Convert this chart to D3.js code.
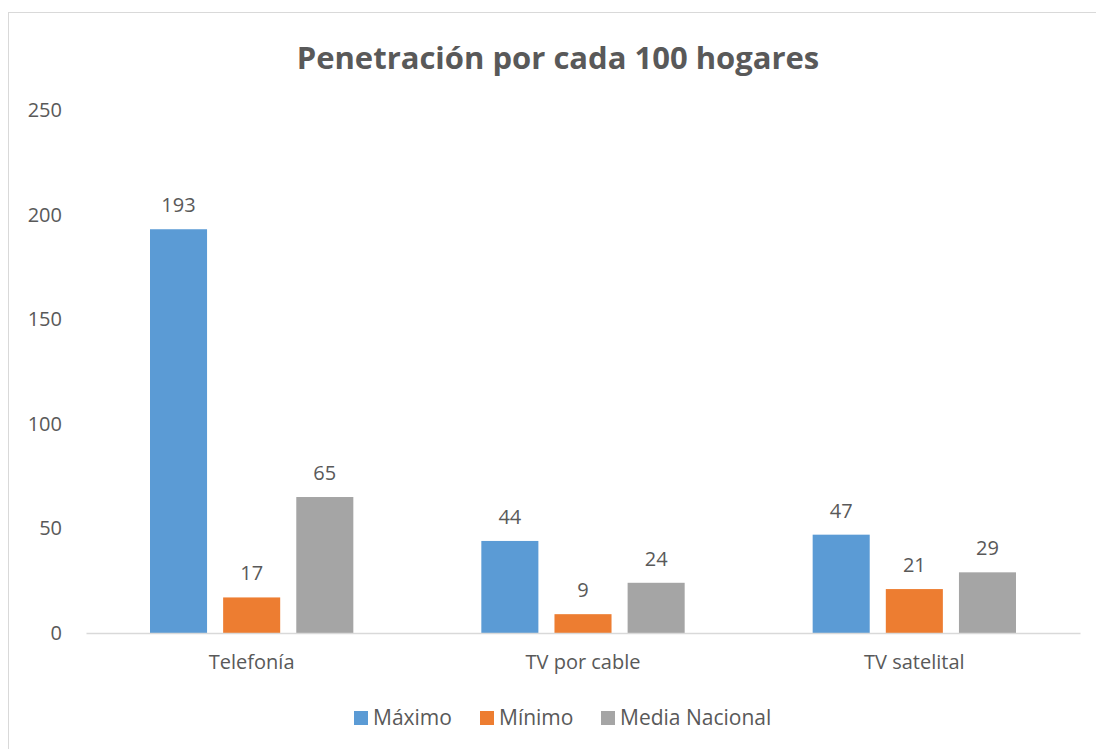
<!DOCTYPE html>
<html>
<head>
<meta charset="utf-8">
<script src="https://cdn.jsdelivr.net/npm/d3@7"></script>
<style>
  body { margin: 0; background: #fff; }
  svg text { font-family: "Open Sans", "Noto Sans", sans-serif; fill: #595959; }
</style>
</head>
<body>
<div id="chart"></div>
<script>
// Chart values
const categories = ["Telefonía", "TV por cable", "TV satelital"];
const seriesNames = ["Máximo", "Mínimo", "Media Nacional"];
const seriesColors = ["#5B9BD5", "#ED7D31", "#A5A5A5"];
const maximo = [193, 44, 47];
const minimo = [17, 9, 21];
const mediaNacional = [65, 24, 29];
const yTicks = [0, 50, 100, 150, 200, 250];

const seriesValues = [maximo, minimo, mediaNacional];

const width = 1096, height = 749;
const margin = { left: 86, right: 16, top: 110, bottom: 116 };

const svg = d3.select("#chart").append("svg")
    .attr("width", width)
    .attr("height", height);

// chart area border
svg.append("rect")
    .attr("x", 8.5).attr("y", 12.5)
    .attr("width", width + 20).attr("height", height + 20)
    .attr("fill", "none")
    .attr("stroke", "#d9d9d9")
    .attr("stroke-width", 1);

svg.append("text")
    .attr("x", 558).attr("y", 69)
    .attr("text-anchor", "middle")
    .style("font-size", "31px")
    .style("font-weight", "bold")
    .text("Penetración por cada 100 hogares");

const x0 = d3.scaleBand()
    .domain(categories)
    .range([margin.left, width - margin.right]);

const x1 = d3.scaleBand()
    .domain(seriesNames)
    .range([0, x0.bandwidth()])
    .paddingInner(0.22)
    .paddingOuter(0.875);

const y = d3.scaleLinear()
    .domain([0, 250])
    .range([height - margin.bottom, margin.top]);

// y axis labels (no axis line)
svg.append("g")
    .selectAll("text")
    .data(yTicks)
    .join("text")
    .attr("x", 62)
    .attr("y", d => y(d))
    .attr("dy", "0.35em")
    .attr("text-anchor", "end")
    .style("font-size", "20px")
    .text(d => d);

// bars
const groups = svg.append("g")
    .selectAll("g")
    .data(categories)
    .join("g")
    .attr("transform", d => `translate(${x0(d)},0)`);

groups.selectAll("rect")
    .data((c, i) => seriesNames.map((s, j) => ({ s, j, v: seriesValues[j][i] })))
    .join("rect")
    .attr("x", d => x1(d.s))
    .attr("y", d => y(d.v))
    .attr("width", x1.bandwidth())
    .attr("height", d => y(0) - y(d.v))
    .attr("fill", d => seriesColors[d.j]);

groups.selectAll("text.val")
    .data((c, i) => seriesNames.map((s, j) => ({ s, j, v: seriesValues[j][i] })))
    .join("text")
    .attr("class", "val")
    .attr("x", d => x1(d.s) + x1.bandwidth() / 2)
    .attr("y", d => y(d.v) - 17)
    .attr("text-anchor", "middle")
    .style("font-size", "20px")
    .text(d => d.v);

// x axis
const xAxis = svg.append("g")
    .attr("transform", `translate(0,${y(0)})`)
    .call(d3.axisBottom(x0).tickSize(0).tickPadding(22));
xAxis.select(".domain").attr("stroke", "#d9d9d9").attr("stroke-width", 1.5);
xAxis.selectAll("text")
    .style("font-size", "20px")
    .style("font-family", "\"Open Sans\", sans-serif")
    .attr("fill", "#595959");

// legend
const legendItems = [
    { name: seriesNames[0], color: seriesColors[0], x: 354 },
    { name: seriesNames[1], color: seriesColors[1], x: 480 },
    { name: seriesNames[2], color: seriesColors[2], x: 601 }
];
const legend = svg.append("g");
legend.selectAll("rect")
    .data(legendItems)
    .join("rect")
    .attr("x", d => d.x)
    .attr("y", 711)
    .attr("width", 14)
    .attr("height", 14)
    .attr("fill", d => d.color);
legend.selectAll("text")
    .data(legendItems)
    .join("text")
    .attr("x", d => d.x + 19)
    .attr("y", 718)
    .attr("dy", "0.35em")
    .style("font-size", "21px")
    .text(d => d.name);
</script>
</body>
</html>
